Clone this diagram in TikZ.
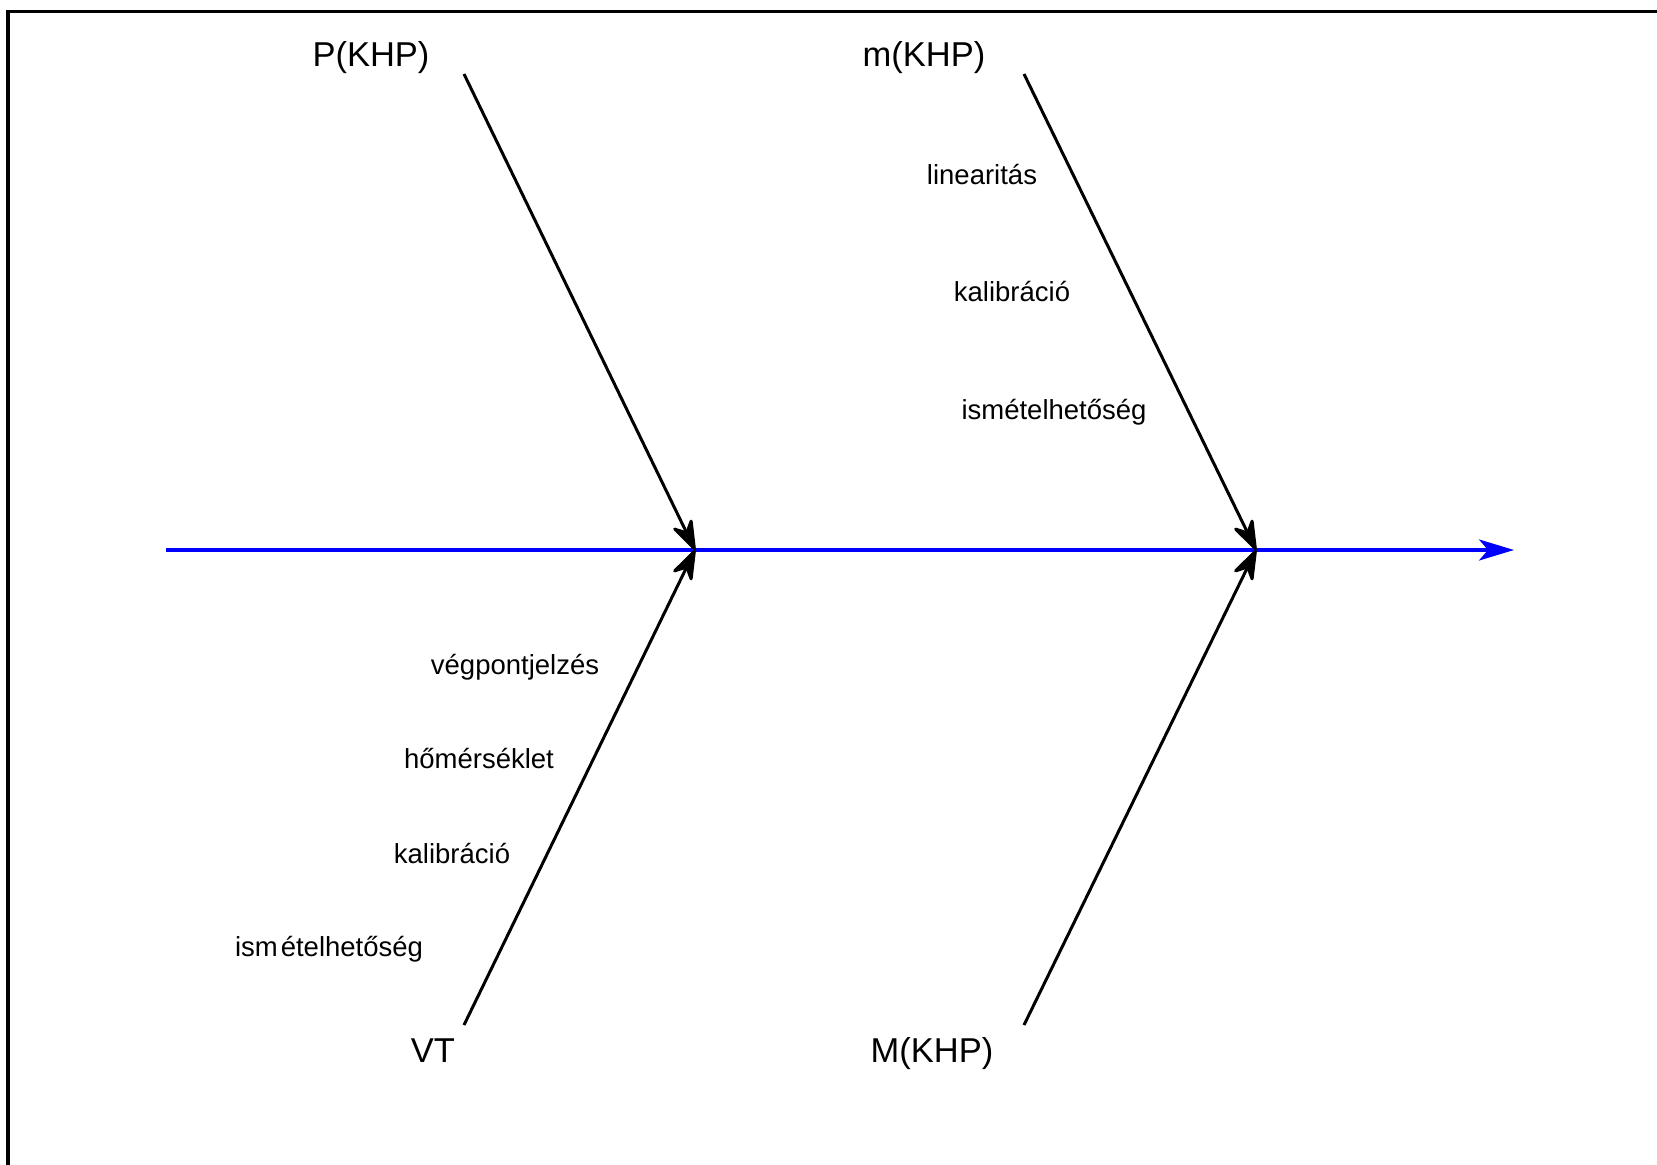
\documentclass[tikz,border=0pt]{standalone}
\usepackage{fontspec}
\setmainfont{Liberation Sans}
\usetikzlibrary{arrows.meta}
\definecolor{spineblue}{RGB}{0,0,255}
\tikzset{
  bigl/.style={anchor=base, inner sep=0pt, font=\fontsize{17.25pt}{20pt}\selectfont},
  smalll/.style={anchor=base, inner sep=0pt, font=\fontsize{13.75pt}{16pt}\selectfont},
  bone/.style={line width=1.5pt, black, -{Stealth[length=18pt, width=12.5pt, inset=6pt, round]}},
  spine/.style={line width=1.7pt, spineblue, -{Stealth[length=17.5pt, width=10.5pt, inset=4.5pt]}}
}
\begin{document}
\begin{tikzpicture}[x=0.5pt,y=-0.5pt]
\useasboundingbox (0,0) rectangle (1657,1165);
\clip (0,0) rectangle (1657,1165);
\draw[line width=1.6pt] (8,11.5) rectangle (1720,1220);
% spine
\coordinate (s) at (166,550);
\coordinate (j1) at (695,550);
\coordinate (j2) at (1256,550);
\coordinate (e) at (1514,550);
\draw[spine] (s) -- (j1) -- (j2) -- (e);
% bone starts
\coordinate (u1) at (464,74);
\coordinate (u2) at (1024,74);
\coordinate (l1) at (464,1025);
\coordinate (l2) at (1024,1025);
\draw[bone] (u1) -- (j1);
\draw[bone] (u2) -- (j2);
\draw[bone] (l1) -- (j1);
\draw[bone] (l2) -- (j2);
% main labels
\node[bigl] (pkhp) at (371,67) {P(KHP)};
\node[bigl] (mkhp) at (924,67) {m(KHP)};
\node[bigl] (vt) at (433,1062.5) {VT};
\node[bigl] (Mkhp) at (932,1062.5) {M(KHP)};
% sub labels
\node[smalll] (lin) at (982,184.5) {linearitás};
\node[smalll] (kal1) at (1012,301.5) {kalibráció};
\node[smalll] (ism1) at (1054,420) {ismételhetőség};
\node[smalll] (veg) at (515,674.3) {végpontjelzés};
\node[smalll] (hom) at (479,768.3) {hőmérséklet};
\node[smalll] (kal2) at (452,863.3) {kalibráció};
\node[smalll] (ism2) at (329,956.7) {ism\kern1.5ptételhetőség};
\end{tikzpicture}
\end{document}
